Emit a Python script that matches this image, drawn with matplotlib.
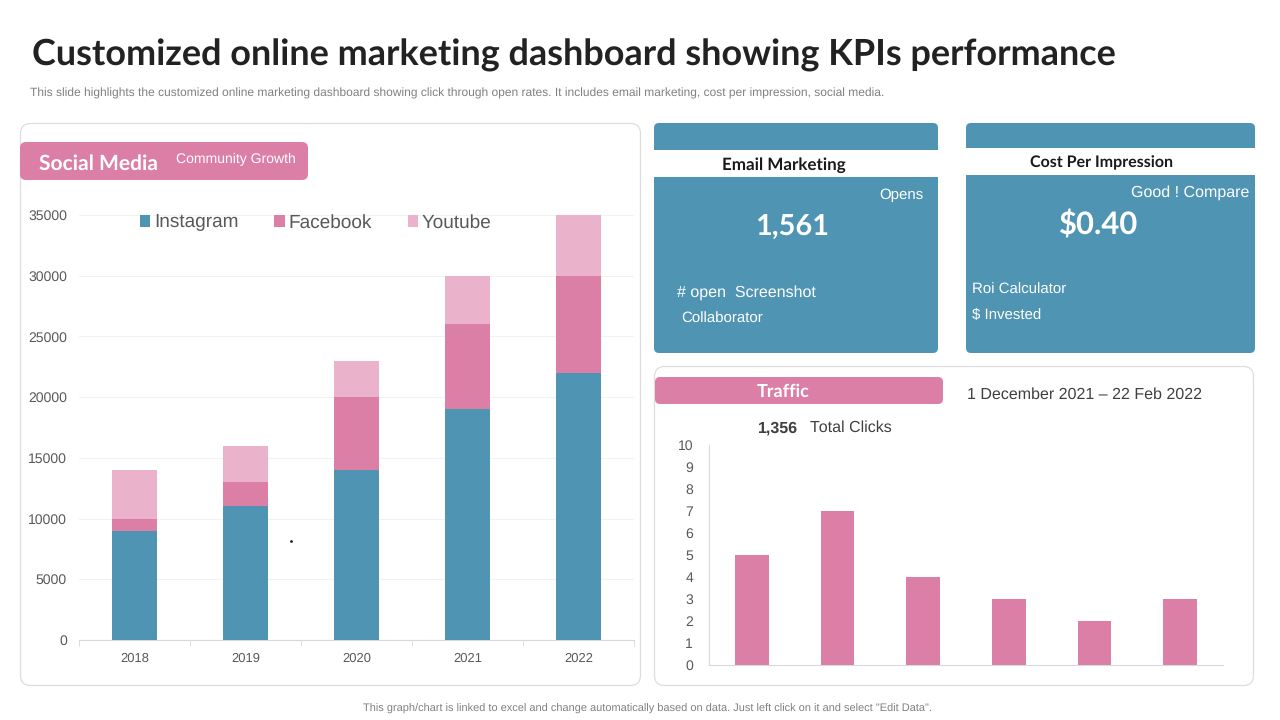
import matplotlib
matplotlib.use("Agg")
import matplotlib.pyplot as plt
from matplotlib.patches import FancyBboxPatch, Rectangle

years = ["2018", "2019", "2020", "2021", "2022"]
instagram = [9000, 11000, 14000, 19000, 22000]
facebook = [1000, 2000, 6000, 7000, 8000]
youtube = [4000, 3000, 3000, 4000, 5000]
traffic = [5, 7, 4, 3, 2, 3]

BLUE = "#4F94B2"; PINK = "#DB7FA7"; LPINK = "#EAB3CB"
SANS = "Liberation Sans"; HEAD = "Lato"
plt.rcParams['font.family'] = [SANS, 'DejaVu Sans']
plt.rcParams['text.hinting'] = 'no_hinting'
plt.rcParams['text.hinting_factor'] = 1
W, H = 1280, 720
fig = plt.figure(figsize=(W/100, H/100), dpi=100, facecolor="white")
bg = fig.add_axes([0, 0, 1, 1]); bg.set_xlim(0, W); bg.set_ylim(H, 0); bg.axis("off")
rend = fig.canvas.get_renderer()

def box(x, y, w, h, fc="white", ec="none", r=6, lw=0.9, z=1):
    p = FancyBboxPatch((x+r, y+r), w-2*r, h-2*r, boxstyle=f"round,pad={r},rounding_size={r}", fc=fc, ec=ec, lw=lw, zorder=z)
    bg.add_patch(p)

def t(x0, x1, y, s, color="#222222", weight="normal", family=SANS):
    """Text spanning x0..x1 pixels, centred vertically on y."""
    a = bg.text(x0, y, s, fontsize=12, color=color, ha="left", va="center", fontweight=weight, zorder=5, family=family)
    a.set_fontsize(12 * (x1 - x0) / a.get_window_extent(rend).width)
    return a

t(32, 1123, 55, "Customized online marketing dashboard showing KPIs performance", "#222222", "bold", HEAD)
t(30, 887, 93, "This slide highlights the customized online marketing dashboard showing click through open rates. It includes email marketing, cost per impression, social media.", "#808080")
t(363, 917, 708.5, "This graph/chart is linked to excel and change automatically based on data. Just left click on it and select \"Edit Data\".", "#808080")

box(20.5, 123.5, 620, 562, ec="#DDDDDD", r=10)
box(654.5, 366.5, 599, 319, ec="#DDDDDD", r=10)

box(654, 123, 284, 230, fc=BLUE, r=5)
bg.add_patch(Rectangle((654, 150), 284, 27, fc="white", ec="none", zorder=2))
box(966, 123, 289, 230, fc=BLUE, r=5)
bg.add_patch(Rectangle((966, 148), 289, 27, fc="white", ec="none", zorder=2))

t(722, 846, 165, "Email Marketing", "#1A1A1A", "bold", HEAD)
t(1030, 1180, 163, "Cost Per Impression", "#1A1A1A", "bold", HEAD)
t(879, 925, 195, "Opens", "white")
t(1131, 1249, 193, "Good ! Compare", "white")
t(755, 831, 227, "1,561", "white", "bold", HEAD)
t(1059, 1139, 224, "$0.40", "white", "bold", HEAD)
t(677, 815, 293, "# open  Screenshot", "white")
t(681, 767, 319, "Collaborator", "white")
t(972, 1070, 290, "Roi Calculator", "white")
t(972, 1042, 315, "$ Invested", "white")

box(20, 142, 288, 38, fc=PINK, r=6, z=3)
t(39, 159, 164, "Social Media", "white", "bold", HEAD)
t(176, 301, 159, "Community Growth", "white")
box(655, 377, 288, 27, fc=PINK, r=5, z=3)
t(757, 810, 392, "Traffic", "white", "bold", HEAD)
t(967, 1201, 395, "1 December 2021 – 22 Feb 2022", "#404040")
t(758, 798, 428, "1,356", "#404040", "bold")
t(810, 891, 428, "Total Clicks", "#404040")
bg.plot([290.5], [540.5], ".", color="#222222", ms=2, zorder=5)

def axes_px(x0, y0, x1, y1):
    a = fig.add_axes([x0/W, 1-y1/H, (x1-x0)/W, (y1-y0)/H])
    a.patch.set_alpha(0)
    return a

ax = axes_px(79, 215, 634, 640)
pos = list(range(len(years)))
bottom2 = [a+b for a, b in zip(instagram, facebook)]
ax.bar(pos, instagram, 0.405, color=BLUE, label="Instagram", zorder=3)
ax.bar(pos, facebook, 0.405, bottom=instagram, color=PINK, label="Facebook", zorder=3)
ax.bar(pos, youtube, 0.405, bottom=bottom2, color=LPINK, label="Youtube", zorder=3)
ax.set_xlim(-0.5, 4.5); ax.set_ylim(0, 35000)
ax.set_xticks(pos, years); ax.set_yticks(range(0, 35001, 5000))
ax.set_xticks([p - 0.5 for p in pos] + [pos[-1] + 0.5], minor=True)
ax.yaxis.grid(True, color="#F2F2F2", lw=0.8); ax.set_axisbelow(True)
for s in ("top", "right", "left"):
    ax.spines[s].set_visible(False)
ax.spines["bottom"].set_color("#D9D9D9")
ax.tick_params(axis="y", length=0, labelsize=9.9, labelcolor="#595959", pad=8.6)
ax.tick_params(axis="x", which="major", length=0, labelsize=9.1, labelcolor="#595959", pad=9)
ax.tick_params(axis="x", which="minor", length=4, color="#D9D9D9")
leg = ax.legend(loc="upper left", bbox_to_anchor=(0.11, 1.003), ncol=3, frameon=False, fontsize=13.4,
          labelcolor="#595959", handlelength=0.55, handleheight=0.55, handletextpad=0.2, columnspacing=1.93,
          borderaxespad=0, borderpad=0)

ax2 = axes_px(709, 445, 1223, 665)
pos2 = list(range(len(traffic)))
ax2.bar(pos2, traffic, 0.39, color=PINK)
ax2.set_xlim(-0.5, 5.5); ax2.set_ylim(0, 10)
ax2.set_yticks(range(0, 11)); ax2.set_xticks([])
for s in ("top", "right"):
    ax2.spines[s].set_visible(False)
ax2.spines["bottom"].set_color("#D9D9D9"); ax2.spines["left"].set_color("#D9D9D9")
ax2.tick_params(axis="y", length=0, labelsize=10.2, labelcolor="#595959", pad=11.5)

fig.savefig("out.png", dpi=100)
